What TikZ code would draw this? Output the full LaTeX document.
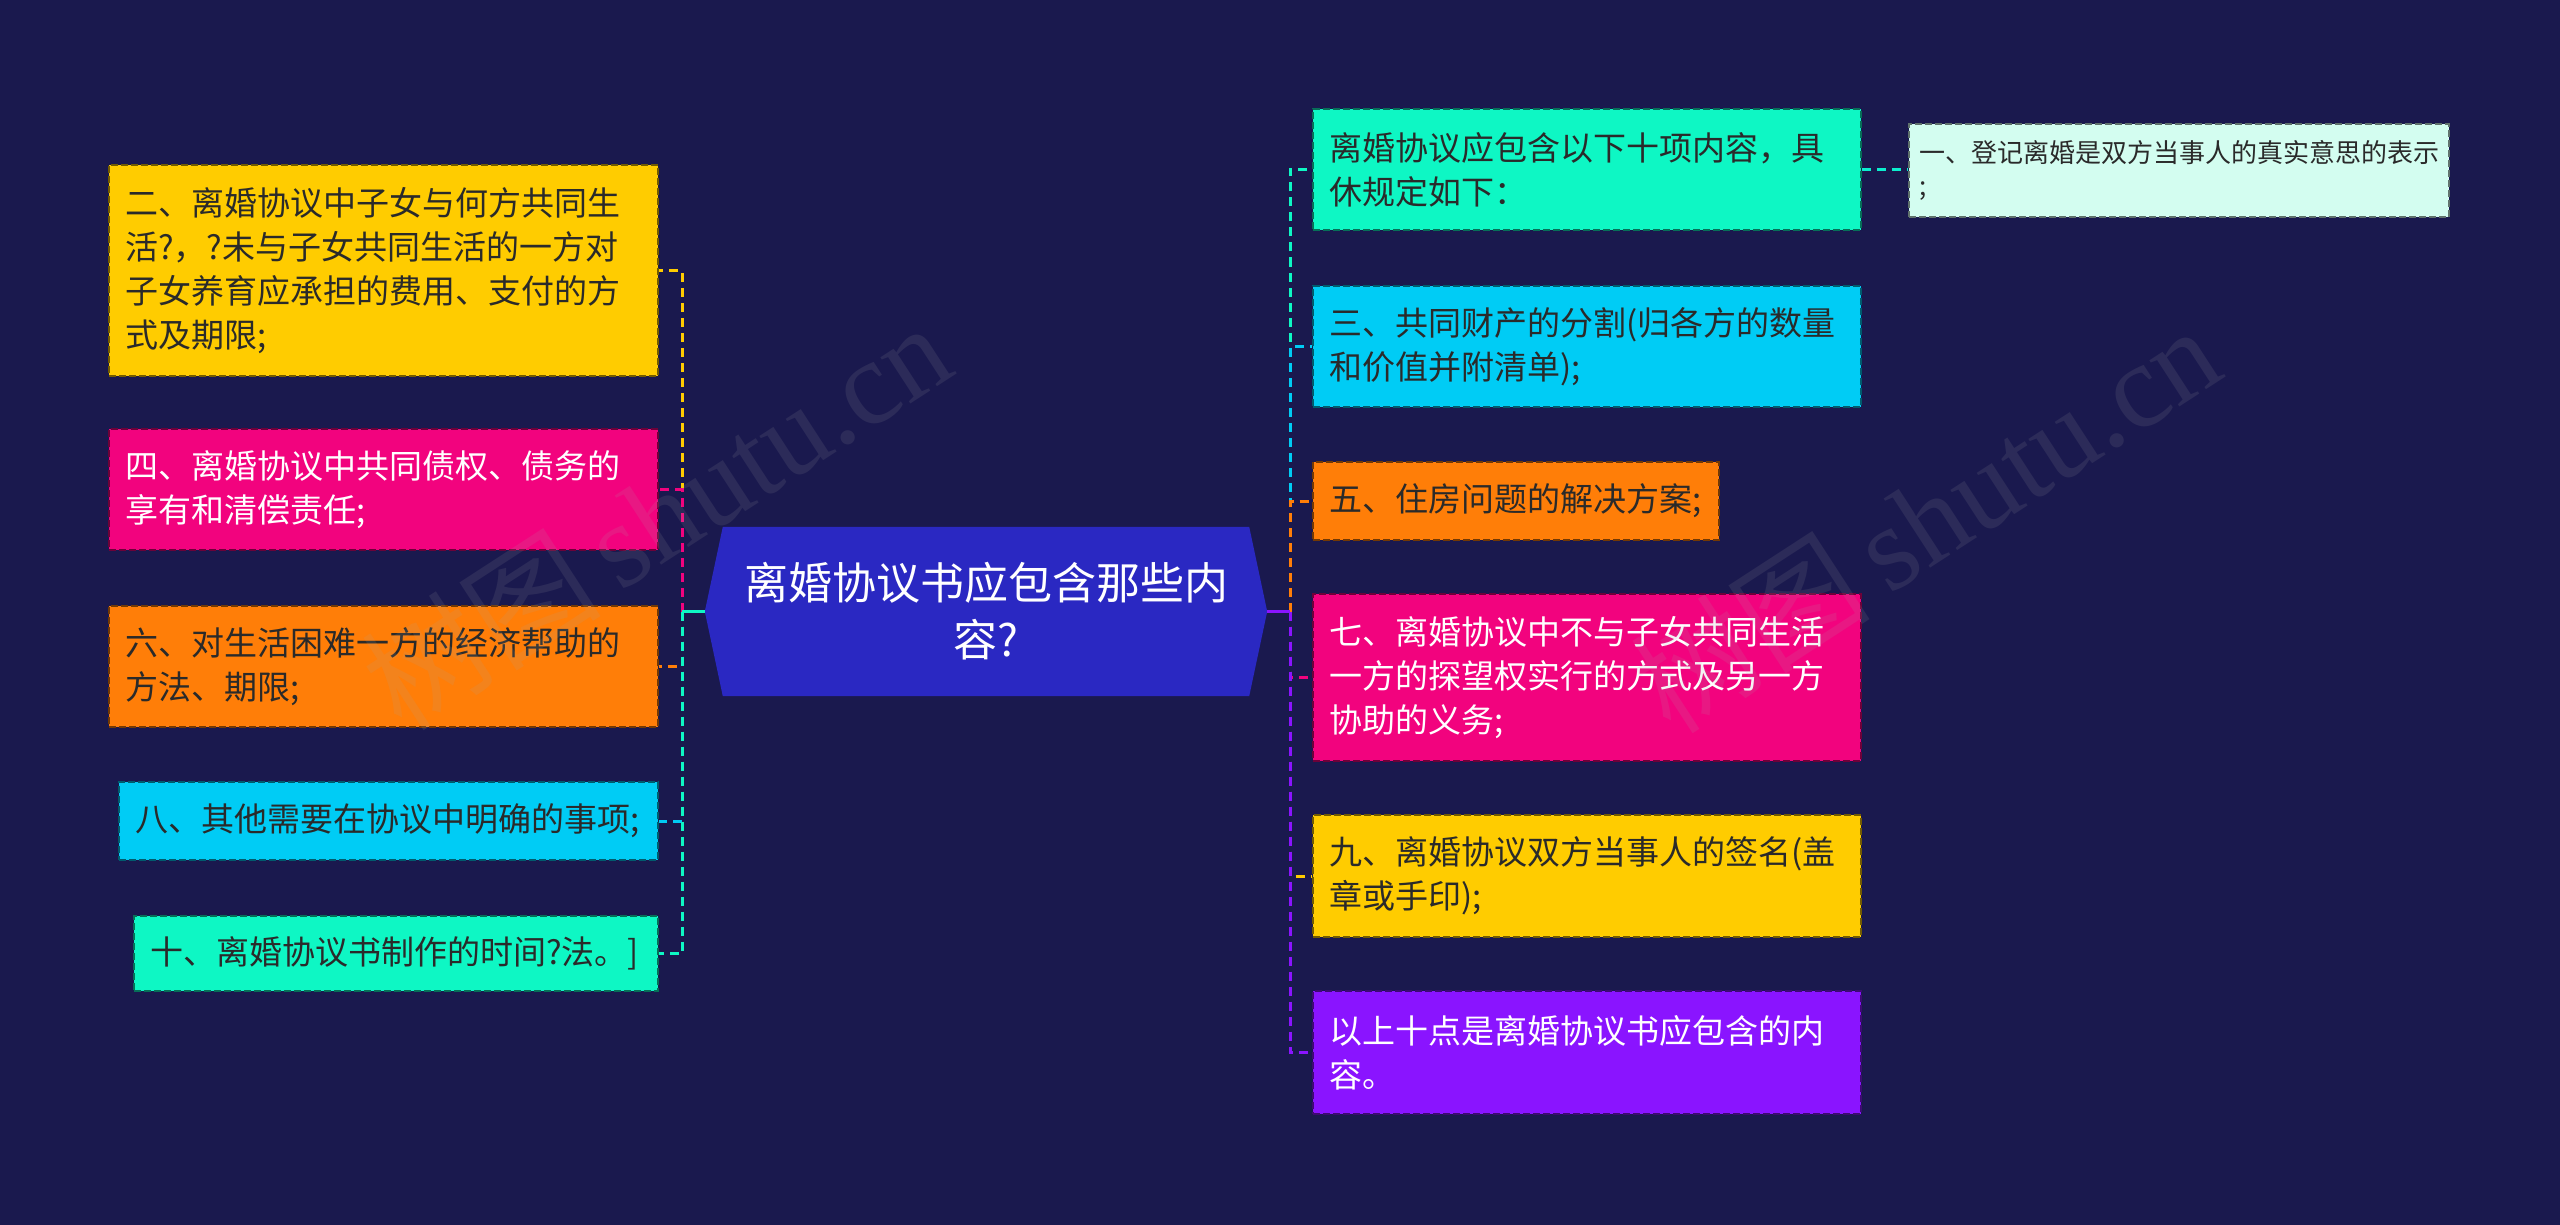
\documentclass[tikz,border=0pt]{standalone}
\usepackage{fontspec}
\setmainfont{Noto Sans CJK SC}
\newfontfamily\cjk{Noto Sans CJK SC}
\newfontfamily\wmserif{Liberation Serif}
\usetikzlibrary{backgrounds}
\definecolor{bg}{HTML}{1A194E}
\definecolor{cRoot}{HTML}{2A28C2}
\definecolor{cGold}{HTML}{FFCC00}
\definecolor{cMag}{HTML}{F2037E}
\definecolor{cOrange}{HTML}{FF7E08}
\definecolor{cCyan}{HTML}{00CCF5}
\definecolor{cAqua}{HTML}{0EF7C4}
\definecolor{cPurple}{HTML}{8A14FF}
\definecolor{cMint}{HTML}{D3FDF0}
\definecolor{ink}{HTML}{2A2A2A}
\tikzset{
  mbox/.style={rectangle, fill=#1, draw=#1!45!black, line width=2.4pt,
    dash pattern=on 7pt off 3pt, inner xsep=16pt, inner ysep=0pt,
    align=left, font=\fontsize{33}{44}\selectfont},
  conn/.style={draw=#1, line width=3pt, dash pattern=on 9pt off 6pt},
  stub/.style={draw=#1, line width=3pt},
  wm/.style={text=gray!70, opacity=0.13, font=\fontsize{120}{120}\selectfont}
}
\begin{document}
\begin{tikzpicture}[x=1pt,y=-1pt]
\begin{scope}[on background layer]
  \fill[bg] (0,0) rectangle (2560,1225);
\end{scope}
\useasboundingbox (0,0) rectangle (2560,1225);

% root
\node[minimum width=526pt, minimum height=169pt, inner sep=0pt, align=center,
      text=white, font=\fontsize{44}{57}\selectfont] (root) at (986,611.5)
      {离婚协议书应包含那些内\\容?};
\begin{scope}[on background layer]
  \fill[cRoot] (root.north west) -- (root.north east) -- ([xshift=18pt]root.east)
     -- (root.south east) -- (root.south west) -- ([xshift=-18pt]root.west) -- cycle;
\end{scope}
\coordinate (rootL) at ([xshift=-18pt]root.west);
\coordinate (rootR) at ([xshift=18pt]root.east);
\coordinate (jl) at (682,611.5);
\coordinate (jr) at (1290,611.5);

% left children
\node[mbox=cGold, text=ink, minimum width=549pt, minimum height=211pt, text width=517pt] (L2) at (383.5,270.5)
 {二、离婚协议中子女与何方共同生\\活?，?未与子女共同生活的一方对\\子女养育应承担的费用、支付的方\\式及期限;};
\node[mbox=cMag, text=white, minimum width=549pt, minimum height=121pt, text width=517pt] (L4) at (383.5,489.5)
 {四、离婚协议中共同债权、债务的\\享有和清偿责任;};
\node[mbox=cOrange, text=ink, minimum width=549pt, minimum height=121pt, text width=517pt] (L6) at (383.5,666.5)
 {六、对生活困难一方的经济帮助的\\方法、期限;};
\node[mbox=cCyan, text=ink, minimum width=539pt, minimum height=78pt, text width=507pt] (L8) at (388.5,821)
 {八、其他需要在协议中明确的事项;};
\node[mbox=cAqua, text=ink, minimum width=524pt, minimum height=75pt, text width=492pt] (L10) at (396,953.5)
 {十、离婚协议书制作的时间?法。]};

% right children
\node[mbox=cAqua, text=ink, minimum width=548pt, minimum height=121pt, text width=516pt] (R1) at (1587,169.5)
 {离婚协议应包含以下十项内容，具\\休规定如下：};
\node[mbox=cCyan, text=ink, minimum width=548pt, minimum height=121pt, text width=516pt] (R3) at (1587,346.5)
 {三、共同财产的分割(归各方的数量\\和价值并附清单);};
\node[mbox=cOrange, text=ink, minimum width=406pt, minimum height=78pt, text width=374pt] (R5) at (1516,501)
 {五、住房问题的解决方案;};
\node[mbox=cMag, text=white, minimum width=548pt, minimum height=167pt, text width=516pt] (R7) at (1587,677.5)
 {七、离婚协议中不与子女共同生活\\一方的探望权实行的方式及另一方\\协助的义务;};
\node[mbox=cGold, text=ink, minimum width=548pt, minimum height=122pt, text width=516pt] (R9) at (1587,876)
 {九、离婚协议双方当事人的签名(盖\\章或手印);};
\node[mbox=cPurple, text=white, minimum width=548pt, minimum height=123pt, text width=516pt] (R10) at (1587,1052.5)
 {以上十点是离婚协议书应包含的内\\容。};
\node[mbox=cMint, text=ink, inner xsep=10pt, minimum width=540pt, minimum height=93pt, text width=520pt,
      font=\fontsize{26}{33}\selectfont] (F1) at (2179,170.5)
 {一、登记离婚是双方当事人的真实意思的表示\\;};

% connectors left
\draw[conn=cGold] (jl) |- (L2.east);
\draw[conn=cMag] (jl) |- (L4.east);
\draw[conn=cOrange] (jl) |- (L6.east);
\draw[conn=cCyan] (jl) |- (L8.east);
\draw[conn=cAqua] (jl) |- (L10.east);
\draw[stub=cAqua] (rootL) -- (jl);
% connectors right
\draw[conn=cAqua] (jr) |- (R1.west);
\draw[conn=cCyan] (jr) |- (R3.west);
\draw[conn=cOrange] (jr) |- (R5.west);
\draw[conn=cMag] (jr) |- (R7.west);
\draw[conn=cGold] (jr) |- (R9.west);
\draw[conn=cPurple] (jr) |- (R10.west);
\draw[stub=cPurple] (rootR) -- (jr);
\draw[conn=cAqua!80!cCyan] (R1.east) -- (R1.east -| F1.west);

% watermarks
\node[wm, rotate=33] (wm1) at (656,515) {{\cjk 树图}\,{\wmserif shutu.cn}};
\node[wm, rotate=33] (wm2) at (1925,518) {{\cjk 树图}\,{\wmserif shutu.cn}};
\end{tikzpicture}
\end{document}
